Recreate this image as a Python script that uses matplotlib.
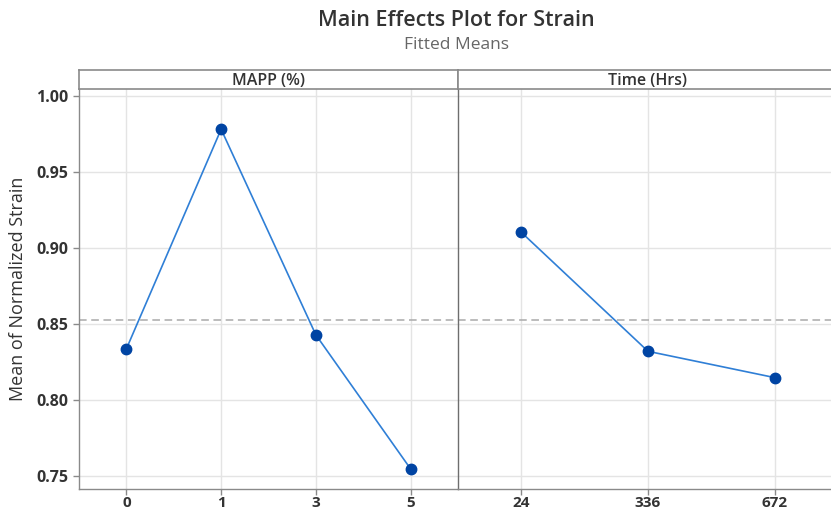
import numpy as np
import matplotlib
matplotlib.use("Agg")
import matplotlib.pyplot as plt

plt.rcParams['font.family'] = ['Open Sans', 'DejaVu Sans']

# fitted means for each factor level
mapp_levels = ["0", "1", "3", "5"]
mapp_means = [0.8336, 0.9781, 0.8428, 0.7546]
time_levels = ["24", "336", "672"]
time_means = [0.9103, 0.8320, 0.8147]
grand_mean = 0.8523

panels = [("MAPP (%)", mapp_levels, mapp_means),
          ("Time (Hrs)", time_levels, time_means)]

line_col = "#2f7fd6"
dot_col = "#0044a3"
edge_col = "#8a8a8a"
text_col = "#333333"

fig = plt.figure(figsize=(8.31, 5.12), dpi=100)
W, H = 831, 512

def frac(x0, y0, x1, y1):
    # pixel box (top-left origin) -> figure fraction rect
    return [x0 / W, 1 - y1 / H, (x1 - x0) / W, (y1 - y0) / H]

boxes = [(79, 458), (458, 838)]
ymin, ymax = 0.7414, 1.0044

for i, ((name, levels, means), (x0, x1)) in enumerate(zip(panels, boxes)):
    ax = fig.add_axes(frac(x0, 89.3, x1, 489))
    x = np.arange(len(levels))
    ax.axhline(grand_mean, color="#aaaaaa", lw=1.1, ls=(0, (5, 3)), zorder=2)
    ax.plot(x, means, color=line_col, lw=1.2, zorder=3)
    ax.plot(x, means, "o", color=dot_col, ms=7.5, zorder=4)
    ax.set_xlim(-0.5, len(levels) - 0.5)
    ax.set_ylim(ymin, ymax)
    ax.set_xticks(x)
    ax.set_xticklabels(levels)
    ax.set_yticks([0.75, 0.80, 0.85, 0.90, 0.95, 1.00])
    ax.set_yticklabels([f"{v:.2f}" for v in ax.get_yticks()])
    ax.grid(True, color="#e4e4e4", lw=1.0, zorder=0)
    ax.set_axisbelow(True)
    for s in ax.spines.values():
        s.set_color(edge_col)
        s.set_linewidth(1.0)
    ax.spines["top"].set_visible(False)
    ax.spines["right"].set_visible(False)
    ax.tick_params(axis="both", colors=edge_col, labelcolor=text_col,
                   labelsize=11.5, length=4, width=1.0, pad=4)
    ax.tick_params(axis="x", labelsize=11, pad=1)
    for lab in ax.get_xticklabels() + ax.get_yticklabels():
        lab.set_fontweight("bold")
    if i == 0:
        ax.set_ylabel("Mean of Normalized Strain", fontsize=13,
                      color=text_col, labelpad=6)
    else:
        ax.tick_params(axis="y", left=False, labelleft=False)
        ax.spines["left"].set_color("#6e6e6e")

    # factor header strip
    st = fig.add_axes(frac(x0, 70, x1, 89.3))
    st.set_xticks([])
    st.set_yticks([])
    st.set_facecolor("white")
    for s in st.spines.values():
        s.set_color(edge_col)
        s.set_linewidth(1.2)
    if i == 1:
        st.spines["right"].set_visible(False)
    st.text(0.5, 0.45, name, transform=st.transAxes, ha="center",
            va="center", fontsize=11.5, fontweight="semibold", color=text_col)

fig.text(0.5495, 1 - 20 / H, "Main Effects Plot for Strain", ha="center",
         va="center", fontsize=15.5, fontweight="semibold", color=text_col)
fig.text(0.5495, 1 - 45 / H, "Fitted Means", ha="center", va="center",
         fontsize=12.5, color="#666666")

fig.savefig("out.png", dpi=100)
